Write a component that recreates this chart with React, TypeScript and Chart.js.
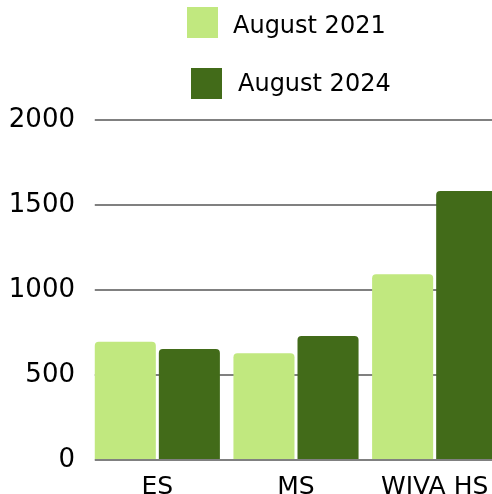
import React, { useEffect, useRef } from "react";
import { Chart, registerables } from "chart.js";

Chart.register(...registerables);

const categories = ["ES", "MS", "WIVA HS"];
const aug2021 = [696, 628, 1092];
const aug2024 = [653, 729, 1583];
const seriesLabels = ["August 2021", "August 2024"];
const seriesColors = ["#C1E87F", "#426B19"];

const FONT = "'DejaVu Sans', sans-serif";

function drawGridLine(chart: any, value: number) {
  const ys = chart.scales.y;
  const meta = chart.getDatasetMeta(0);
  const bar = meta.data[0];
  if (!bar) return;
  const x0 = bar.x - bar.width / 2;
  const ctx = chart.ctx;
  const py = Math.round(ys.getPixelForValue(value));
  ctx.save();
  ctx.strokeStyle = "#808080";
  ctx.lineWidth = 2;
  ctx.beginPath();
  ctx.moveTo(x0, py);
  ctx.lineTo(chart.chartArea.right, py);
  ctx.stroke();
  ctx.restore();
}

const gridPlugin = {
  id: "customGrid",
  beforeDatasetsDraw(chart: any) {
    chart.scales.y.ticks.forEach((t: any) => {
      if (t.value !== 0) drawGridLine(chart, t.value);
    });
  },
  afterDatasetsDraw(chart: any) {
    drawGridLine(chart, 0);
  },
};

const legendPlugin = {
  id: "stackedLegend",
  afterDraw(chart: any) {
    const ctx = chart.ctx;
    const rows = [
      { bx: 187, by: 7, tx: 233, ty: 27 },
      { bx: 191, by: 68, tx: 238, ty: 85 },
    ];
    ctx.save();
    chart.data.datasets.forEach((ds: any, i: number) => {
      const r = rows[i];
      ctx.fillStyle = ds.backgroundColor;
      ctx.fillRect(r.bx, r.by, 31, 31);
      ctx.fillStyle = "#000";
      ctx.font = `24px ${FONT}`;
      ctx.textBaseline = "middle";
      ctx.textAlign = "left";
      ctx.fillText(ds.label, r.tx, r.ty);
    });
    ctx.restore();
  },
};

export default function App() {
  const ref = useRef<HTMLCanvasElement | null>(null);
  useEffect(() => {
    if (!ref.current) return;
    const chart = new Chart(ref.current, {
      type: "bar",
      data: {
        labels: categories,
        datasets: [
          {
            label: seriesLabels[0],
            data: aug2021,
            backgroundColor: seriesColors[0],
            borderRadius: 4,
            barPercentage: 0.953,
            categoryPercentage: 0.924,
          },
          {
            label: seriesLabels[1],
            data: aug2024,
            backgroundColor: seriesColors[1],
            borderRadius: 4,
            barPercentage: 0.953,
            categoryPercentage: 0.924,
          },
        ],
      },
      options: {
        responsive: false,
        animation: false,
        devicePixelRatio: 1,
        layout: { padding: { top: 120, left: 0, right: 0, bottom: 0 } },
        plugins: {
          legend: { display: false },
          tooltip: { enabled: false },
        },
        scales: {
          x: {
            grid: { display: false, drawTicks: false },
            border: { display: false },
            ticks: { font: { family: FONT, size: 25 }, color: "#000", padding: 12 },
            afterFit: (s: any) => {
              s.height = 34;
            },
          },
          y: {
            min: 0,
            max: 2000,
            grid: { display: false, drawTicks: false },
            border: { display: false },
            ticks: {
              stepSize: 500,
              font: { family: FONT, size: 26 },
              color: "#000",
              padding: 13,
              callback: (v: any) => String(v),
            },
            afterFit: (s: any) => {
              s.width = 88;
            },
          },
        },
      },
      plugins: [gridPlugin, legendPlugin],
    });
    return () => chart.destroy();
  }, []);
  return (
    <div style={{ position: "absolute", left: 0, top: 0, width: 492, height: 494, overflow: "hidden", background: "#fff" }}>
      <canvas ref={ref} width={504} height={494} style={{ display: "block" }} />
    </div>
  );
}
